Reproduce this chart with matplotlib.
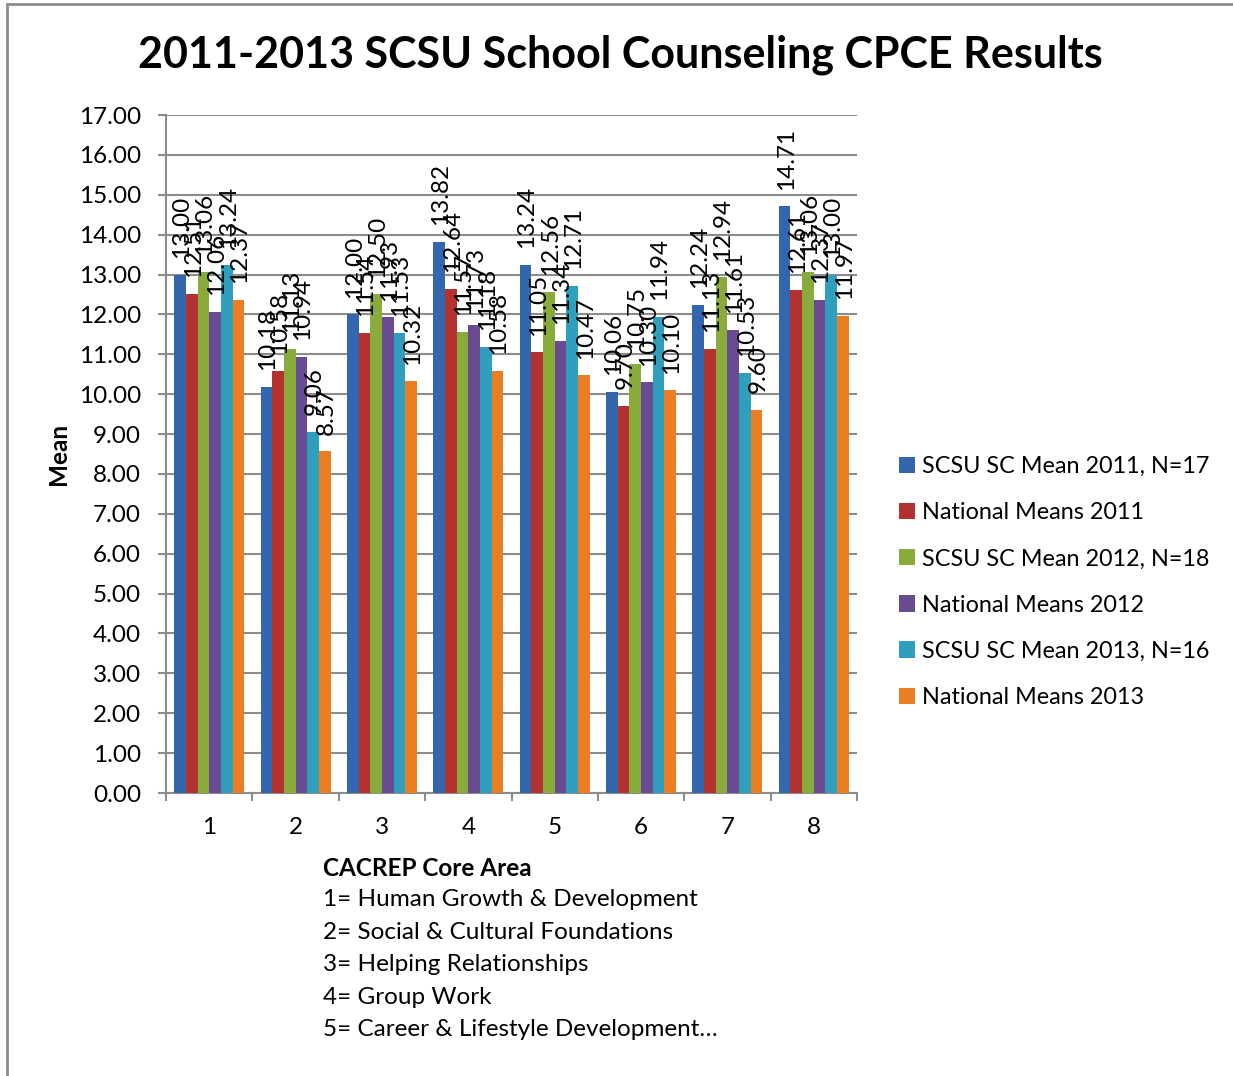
import numpy as np
import matplotlib.pyplot as plt
from matplotlib.patches import Rectangle

plt.rcParams['font.family'] = ['Lato', 'DejaVu Sans']

# chart data
core_areas = ['1', '2', '3', '4', '5', '6', '7', '8']
series_names = ['SCSU SC Mean 2011, N=17', 'National Means 2011',
                'SCSU SC Mean 2012, N=18', 'National Means 2012',
                'SCSU SC Mean 2013, N=16', 'National Means 2013']
scsu_2011 = [13.00, 10.18, 12.00, 13.82, 13.24, 10.06, 12.24, 14.71]
national_2011 = [12.51, 10.58, 11.54, 12.64, 11.05, 9.70, 11.13, 12.61]
scsu_2012 = [13.06, 11.13, 12.50, 11.57, 12.56, 10.75, 12.94, 13.06]
national_2012 = [12.06, 10.94, 11.93, 11.73, 11.34, 10.30, 11.61, 12.37]
scsu_2013 = [13.24, 9.06, 11.53, 11.18, 12.71, 11.94, 10.53, 13.00]
national_2013 = [12.37, 8.57, 10.32, 10.58, 10.47, 10.10, 9.60, 11.97]
legend_notes = ['1= Human Growth & Development',
                '2= Social & Cultural Foundations',
                '3= Helping Relationships',
                '4= Group Work',
                '5= Career & Lifestyle Development\u2026']

all_series = [scsu_2011, national_2011, scsu_2012, national_2012, scsu_2013, national_2013]
colors = ['#3466ad', '#b3312e', '#88ab3b', '#6a4a90', '#2f9fbd', '#eb7d22']
fs = 17.5

fig = plt.figure(figsize=(12.33, 10.76), dpi=100)
ax = fig.add_axes([166 / 1233, 1 - 793 / 1076, (857 - 166) / 1233, (793 - 115) / 1076])

# outer chart border
fig.patches.append(Rectangle((7 / 1233, -0.01), 1.02, 1 - 4 / 1076 + 0.01, transform=fig.transFigure,
                             fill=False, edgecolor='#8c8c8c', linewidth=2))

x = np.arange(len(core_areas))
bar_w = 0.135
for i, (vals, name) in enumerate(zip(all_series, series_names)):
    pos = x + (i - 2.5) * bar_w
    ax.bar(pos, vals, width=bar_w, color=colors[i], label=name, zorder=3)
    for px, v in zip(pos, vals):
        ax.annotate(f'{v:.2f}', (px, v), xytext=(1, 12), textcoords='offset points',
                    rotation=90, ha='center', va='bottom', fontsize=fs, zorder=4)

ax.set_xlim(-0.5, len(core_areas) - 0.5)
ax.set_ylim(0, 17)
ax.set_yticks(np.arange(0, 18, 1))
ax.set_yticklabels([f'{t:.2f}' for t in range(18)], fontsize=fs)
ax.yaxis.grid(True, color='#8c8c8c', linewidth=1.5, zorder=0)
ax.set_axisbelow(True)

# category labels centred, ticks at boundaries
ax.set_xticks(np.arange(-0.5, len(core_areas)), minor=False)
ax.set_xticklabels([])
ax.set_xticks(x, minor=True)
ax.set_xticklabels(core_areas, minor=True, fontsize=fs)
ax.tick_params(axis='x', which='minor', length=0, pad=17)
ax.tick_params(axis='x', which='major', length=6, width=1.5, color='#8c8c8c', direction='out')
ax.tick_params(axis='y', length=6, width=1.5, color='#8c8c8c', pad=12)

for side in ['top', 'right']:
    ax.spines[side].set_visible(False)
for side in ['left', 'bottom']:
    ax.spines[side].set_color('#8c8c8c')
    ax.spines[side].set_linewidth(1.5)

ax.set_ylabel('Mean', fontsize=fs, fontweight='bold', labelpad=6)

fig.text(620 / 1233, 1 - 55 / 1076, '2011-2013 SCSU School Counseling CPCE Results',
         ha='center', va='center', fontsize=31, fontweight='bold')

ax.legend(loc='center left', bbox_to_anchor=(878 / 1233, 1 - 582 / 1076), bbox_transform=fig.transFigure,
          frameon=False, fontsize=16.8, handlelength=0.7, handleheight=0.7, handletextpad=0.3,
          labelspacing=1.08)

fig.text(323 / 1233, 1 - 868 / 1076, 'CACREP Core Area', ha='left', va='center',
         fontsize=fs, fontweight='bold')
for k, line in enumerate(legend_notes):
    fig.text(323 / 1233, 1 - (900 + 32.4 * k) / 1076, line, ha='left', va='center', fontsize=fs)

fig.savefig('out.png', dpi=100)
